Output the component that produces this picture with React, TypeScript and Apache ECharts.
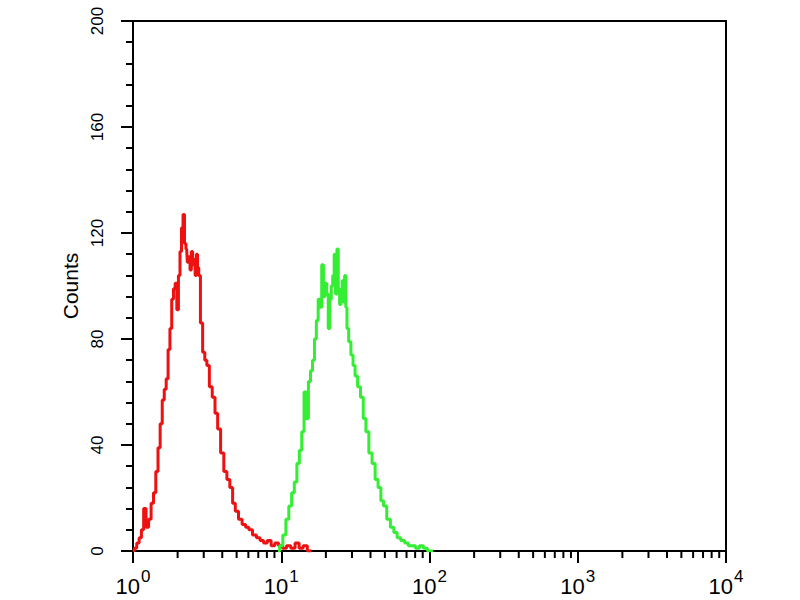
import React, { useEffect, useRef } from "react";
import * as echarts from "echarts";

// Red histogram (fluorescence value, counts)
const redX = [1.0, 1.04, 1.08, 1.12, 1.16, 1.2, 1.25, 1.3, 1.35, 1.4, 1.45, 1.5, 1.55, 1.6, 1.65, 1.7, 1.75, 1.8, 1.85, 1.9, 1.95, 2.0, 2.05, 2.1, 2.15, 2.2, 2.25, 2.3, 2.35, 2.4, 2.45, 2.5, 2.55, 2.6, 2.65, 2.7, 2.75, 2.8, 2.9, 3.0, 3.1, 3.2, 3.35, 3.5, 3.65, 3.8, 4.0, 4.2, 4.4, 4.6, 4.8, 5.0, 5.3, 5.6, 5.9, 6.2, 6.6, 7.0, 7.4, 7.8, 8.3, 8.8, 9.3, 9.9, 10.5, 11.2, 12.0, 12.8, 13.6, 14.5, 15.5, 16.0];
const redY = [0, 1, 3, 5, 8, 16, 9, 12, 18, 22, 30, 39, 48, 57, 61, 65, 76, 84, 95, 99, 101, 91, 104, 113, 122, 127, 116, 114, 109, 111, 106, 113, 108, 110, 104, 112, 107, 104, 86, 75, 72, 70, 62, 58, 52, 46, 37, 30, 27, 24, 18, 15, 12, 10, 9, 8, 6, 5, 4, 3, 4, 2, 3, 2, 1, 2, 1, 3, 1, 2, 0, 0];

// Green histogram
const greenX = [9.5, 10.0, 10.5, 11.0, 11.5, 12.0, 12.5, 13.0, 13.5, 14.0, 14.5, 15.0, 15.5, 16.0, 16.5, 17.0, 17.5, 18.0, 18.5, 19.0, 19.5, 20.0, 20.5, 21.0, 21.5, 22.0, 22.5, 23.0, 23.5, 24.0, 24.5, 25.0, 25.5, 26.0, 26.5, 27.0, 27.5, 28.0, 29.0, 30.0, 31.0, 32.0, 33.5, 35.0, 36.5, 38.0, 40.0, 42.0, 44.0, 46.0, 48.0, 50.0, 53.0, 56.0, 59.0, 62.0, 66.0, 70.0, 74.0, 78.0, 83.0, 88.0, 94.0, 100, 106];
const greenY = [0, 2, 6, 12, 17, 22, 26, 33, 38, 45, 60, 50, 64, 68, 72, 80, 87, 95, 92, 108, 96, 101, 97, 84, 95, 100, 104, 112, 97, 114, 99, 93, 96, 102, 94, 104, 92, 84, 79, 74, 70, 66, 62, 58, 50, 45, 37, 33, 27, 24, 19, 17, 12, 9, 7, 5, 4, 3, 2, 2, 1, 2, 1, 0, 0];

// Log minor tick positions
const minorTickValues = [2, 3, 4, 5, 6, 7, 8, 9, 20, 30, 40, 50, 60, 70, 80, 90, 200, 300, 400, 500, 600, 700, 800, 900, 2000, 3000, 4000, 5000, 6000, 7000, 8000, 9000];

const FONT = "'Liberation Sans', Arial, sans-serif";

export default function App() {
  const ref = useRef<HTMLDivElement>(null);
  useEffect(() => {
    if (!ref.current) return;
    const chart = echarts.init(ref.current, null, { renderer: "svg" });
    const option = {
      animation: false,
      backgroundColor: "#ffffff",
      grid: {
        left: 133,
        right: 74,
        top: 21,
        bottom: 49,
        show: true,
        borderColor: "#000",
        borderWidth: 2,
        backgroundColor: "transparent",
      },
      xAxis: {
        type: "log",
        logBase: 10,
        min: 1,
        max: 10000,
        axisLine: { lineStyle: { color: "#000", width: 2 } },
        axisTick: { length: 12, lineStyle: { color: "#000", width: 2 } },
        splitLine: { show: false },
        axisLabel: {
          margin: 12,
          formatter: (v: number) => `{b|10}{s|${Math.round(Math.log10(v))}}`,
          rich: {
            b: { fontSize: 22, fontFamily: FONT, color: "#000", padding: [12, 0, 0, 0] },
            s: { fontSize: 17, fontFamily: FONT, color: "#000", padding: [0, 0, 8, 1] },
          },
        },
      },
      yAxis: {
        type: "value",
        min: 0,
        max: 200,
        interval: 40,
        name: "Counts",
        nameLocation: "middle",
        nameGap: 52,
        nameTextStyle: { fontSize: 21, fontFamily: FONT, color: "#000" },
        axisLine: { show: true, lineStyle: { color: "#000", width: 2 } },
        axisTick: { show: true, length: 12, lineStyle: { color: "#000", width: 2 } },
        minorTick: { show: true, splitNumber: 5, length: 7, lineStyle: { color: "#000", width: 2 } },
        splitLine: { show: false },
        axisLabel: { rotate: 90, margin: 27, fontSize: 17, fontFamily: FONT, color: "#000" },
      },
      series: [
        {
          type: "line",
          step: "middle",
          showSymbol: false,
          data: redX.map((x, i) => [x, redY[i]]),
          lineStyle: { color: "#ee1111", width: 3 },
          z: 3,
        },
        {
          type: "line",
          step: "middle",
          showSymbol: false,
          data: greenX.map((x, i) => [x, greenY[i]]),
          lineStyle: { color: "#33ee33", width: 3 },
          z: 3,
        },
        {
          type: "custom",
          clip: false,
          silent: true,
          data: minorTickValues.map((v) => [v, 0]),
          renderItem: (_params: any, api: any) => {
            const p = api.coord([api.value(0), 0]);
            return {
              type: "line",
              shape: { x1: p[0], y1: p[1], x2: p[0], y2: p[1] + 7 },
              style: { stroke: "#000", lineWidth: 2 },
            };
          },
          z: 5,
        },
      ],
    };
    chart.setOption(option as any);
    return () => chart.dispose();
  }, []);
  return (
    <div
      ref={ref}
      style={{ position: "fixed", left: 0, top: 0, width: 800, height: 600, background: "#fff" }}
    />
  );
}
